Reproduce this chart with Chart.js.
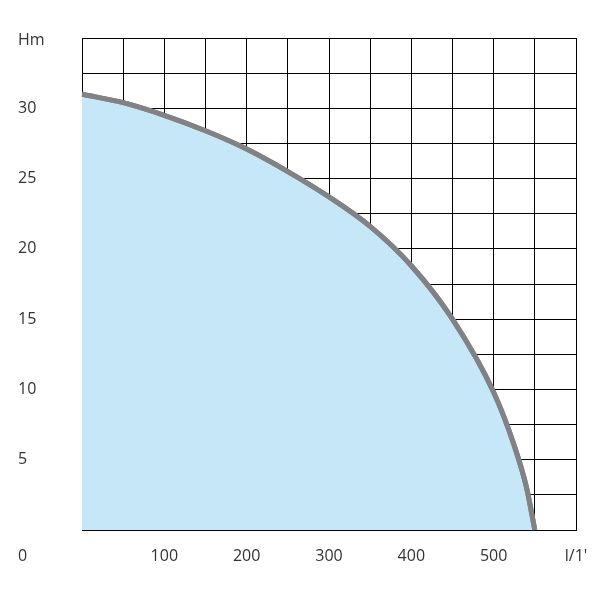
<!DOCTYPE html><html><head><script src="https://cdn.jsdelivr.net/npm/chart.js"></script>
<style>body{margin:0;background:#fff}#w{width:600px;height:600px}</style></head><body><div id="w"><canvas id="c"></canvas></div>
<script>
const flow=[0,50,100,150,200,250,300,350,400,450,500,525,540,550];
const head=[31,30.4,29.5,28.4,27.1,25.5,23.7,21.6,18.8,15,9.8,6,3,0];
const xLabels=[100,200,300,400,500];
const yLabels=[5,10,15,20,25,30];
const labels={id:'lab',afterDraw(ch){const c=ch.ctx,x=ch.scales.x,y=ch.scales.y;
const m=ch.getDatasetMeta(0);c.save();m.dataset.draw(c,ch.chartArea);c.restore();
c.save();c.fillStyle='#333';c.font='16px "Open Sans", sans-serif';c.textBaseline='middle';
c.textAlign='center';xLabels.forEach(v=>c.fillText(v,x.getPixelForValue(v),556));c.fillText("l/1'",x.getPixelForValue(600),556);
c.textAlign='left';yLabels.forEach(v=>c.fillText(v,18,y.getPixelForValue(v)));c.fillText('0',18,556);c.fillText('Hm',18,40);c.restore();}};
new Chart(document.getElementById('c'),{type:'line',data:{datasets:[{data:flow.map((f,i)=>({x:f,y:head[i]})),borderColor:'#808285',borderWidth:5,backgroundColor:'#c6e7f7',fill:'origin',pointRadius:0,cubicInterpolationMode:'monotone'}]},
options:{responsive:true,maintainAspectRatio:false,animation:false,layout:{padding:{left:82,right:24,top:38,bottom:70}},plugins:{legend:{display:false},tooltip:{enabled:false}},
scales:{x:{type:'linear',z:1,min:0,max:600,ticks:{display:false,stepSize:50},grid:{color:'#000',lineWidth:1,drawTicks:false},border:{color:'#000'}},
y:{z:1,min:0,max:35,ticks:{display:false,stepSize:2.5},grid:{color:'#000',lineWidth:1,drawTicks:false},border:{color:'#000'}}}},plugins:[labels]});
</script></body></html>
